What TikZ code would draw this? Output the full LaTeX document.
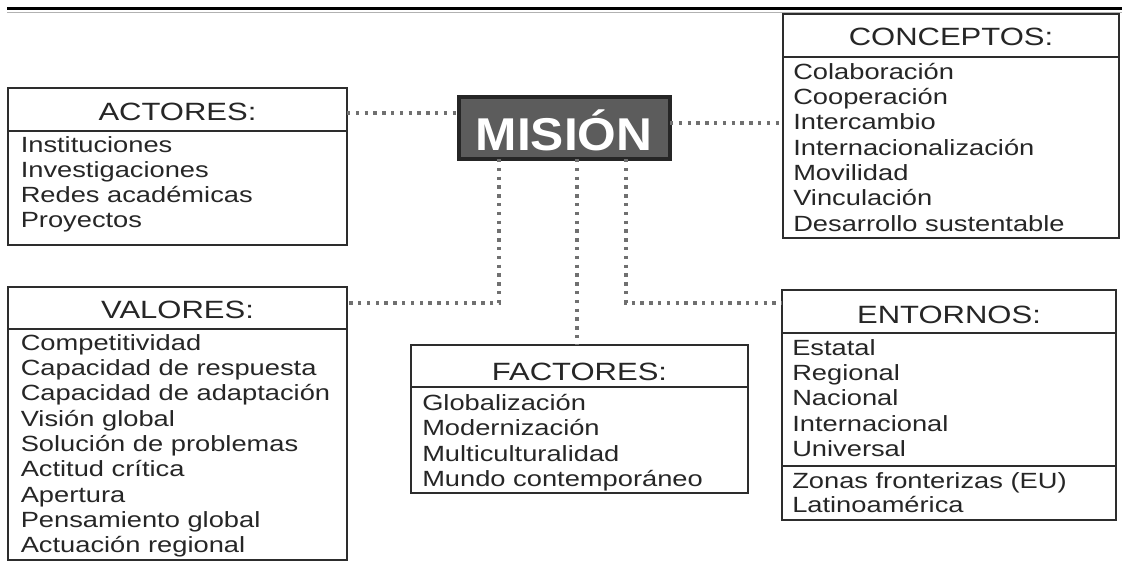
\documentclass[tikz,border=0pt]{standalone}
\usepackage{fontspec}
\setmainfont{Liberation Sans}[FakeStretch=1.24]
\newfontfamily\misionfont{Liberation Sans}[FakeStretch=1.08]
\usepackage{tikz}
\definecolor{inkgray}{RGB}{38,38,38}
\definecolor{framegray}{RGB}{45,45,45}
\definecolor{dotgray}{RGB}{112,112,112}
\definecolor{misiongray}{RGB}{92,92,92}
\tikzset{
  panel/.style 2 args={draw=framegray, line width=2pt, outer sep=0pt, inner sep=0pt,
    anchor=north west, minimum width=#1*0.75pt, minimum height=#2*0.75pt},
  rule/.style={draw=framegray, line width=1.1pt},
  head/.style={anchor=base, inner sep=0pt, text=inkgray, font=\fontsize{18.75pt}{22pt}\selectfont},
  item/.style={anchor=base west, inner sep=0pt, text=inkgray, font=\fontsize{16.5pt}{19pt}\selectfont},
  linkdots/.style={draw=dotgray, line width=2.6pt, dash pattern=on 2.6pt off 4pt}
}

\begin{document}
\begin{tikzpicture}[x=0.75pt, y=-0.75pt]
  \useasboundingbox (0,0) rectangle (1122,562);
  % top rule
	\draw [black, line width=2.4pt] (7,8.5) -- (1122,8.5);
	\draw [gray!60, line width=0.6pt] (7,12.5) -- (1122,12.5);
  % nodes
	\node [panel={211}{62}, fill=misiongray, draw=black!85, line width=2.4pt] (0) at (459,97) {};
	\node [text=white, inner sep=0pt, anchor=base, font=\misionfont\bfseries\fontsize{34.5pt}{36pt}\selectfont] (0a) at (564,150) {MISIÓN};
	\node [panel={339}{157}] (1) at (8,88) {};
	\node [panel={336}{224}] (2) at (783,14) {};
	\node [panel={339}{273}] (3) at (8,287) {};
	\node [panel={337}{148}] (4) at (411,345) {};
	\node [panel={334}{230}] (5) at (782,290) {};
	%% actores
	\node [head] (10) at (177.5,120) {ACTORES:};
	\node [item] (11) at (20.5,152) {Instituciones};
	\node [item] (12) at (20.5,177) {Investigaciones};
	\node [item] (13) at (20.5,202) {Redes académicas};
	\node [item] (14) at (20.5,227) {Proyectos};
	%% conceptos
	\node [head] (20) at (951,45) {CONCEPTOS:};
	\node [item] (21) at (793,79) {Colaboración};
	\node [item] (22) at (793,104.3) {Cooperación};
	\node [item] (23) at (793,129.6) {Intercambio};
	\node [item] (24) at (793,155) {Internacionalización};
	\node [item] (25) at (793,180.3) {Movilidad};
	\node [item] (26) at (793,205.6) {Vinculación};
	\node [item] (27) at (793,231) {Desarrollo sustentable};
	%% valores
	\node [head] (30) at (177.5,318) {VALORES:};
	\node [item] (31) at (20.5,350) {Competitividad};
	\node [item] (32) at (20.5,375.3) {Capacidad de respuesta};
	\node [item] (33) at (20.5,400.6) {Capacidad de adaptación};
	\node [item] (34) at (20.5,426) {Visión global};
	\node [item] (35) at (20.5,451.3) {Solución de problemas};
	\node [item] (36) at (20.5,476.6) {Actitud crítica};
	\node [item] (37) at (20.5,502) {Apertura};
	\node [item] (38) at (20.5,527.3) {Pensamiento global};
	\node [item] (39) at (20.5,552.6) {Actuación regional};
	%% factores
	\node [head] (40) at (579.5,380) {FACTORES:};
	\node [item] (41) at (422,410) {Globalización};
	\node [item] (42) at (422,435.5) {Modernización};
	\node [item] (43) at (422,461) {Multiculturalidad};
	\node [item] (44) at (422,486.5) {Mundo contemporáneo};
	%% entornos
	\node [head] (50) at (949,323) {ENTORNOS:};
	\node [item] (51) at (792,355) {Estatal};
	\node [item] (52) at (792,380.4) {Regional};
	\node [item] (53) at (792,405.8) {Nacional};
	\node [item] (54) at (792,431.2) {Internacional};
	\node [item] (55) at (792,456.6) {Universal};
	\node [item] (56) at (792,488) {Zonas fronterizas (EU)};
	\node [item] (57) at (792,512) {Latinoamérica};
	% bends
	\coordinate (60) at (499,303);
	\coordinate (61) at (626,303);
	% rules
	\draw [rule] (1.west |- 0,131) -- (1.east |- 0,131);
	\draw [rule] (2.west |- 0,57) -- (2.east |- 0,57);
	\draw [rule] (3.west |- 0,329) -- (3.east |- 0,329);
	\draw [rule] (4.west |- 0,387) -- (4.east |- 0,387);
	\draw [rule] (5.west |- 0,333) -- (5.east |- 0,333);
	\draw [rule] (5.west |- 0,466) -- (5.east |- 0,466);
	% edges
	\draw [linkdots] (1.east |- 0,113) -- (0.west |- 0,113);
	\draw [linkdots] (0.east |- 0,123) -- (2.west |- 0,123);
	\draw [linkdots] (0.south -| 60) -- (60) -- (3.east |- 60);
	\draw [linkdots] (0.south -| 577,0) -- (4.north -| 577,0);
	\draw [linkdots] (0.south -| 61) -- (61) -- (5.west |- 61);
\end{tikzpicture}
\end{document}
